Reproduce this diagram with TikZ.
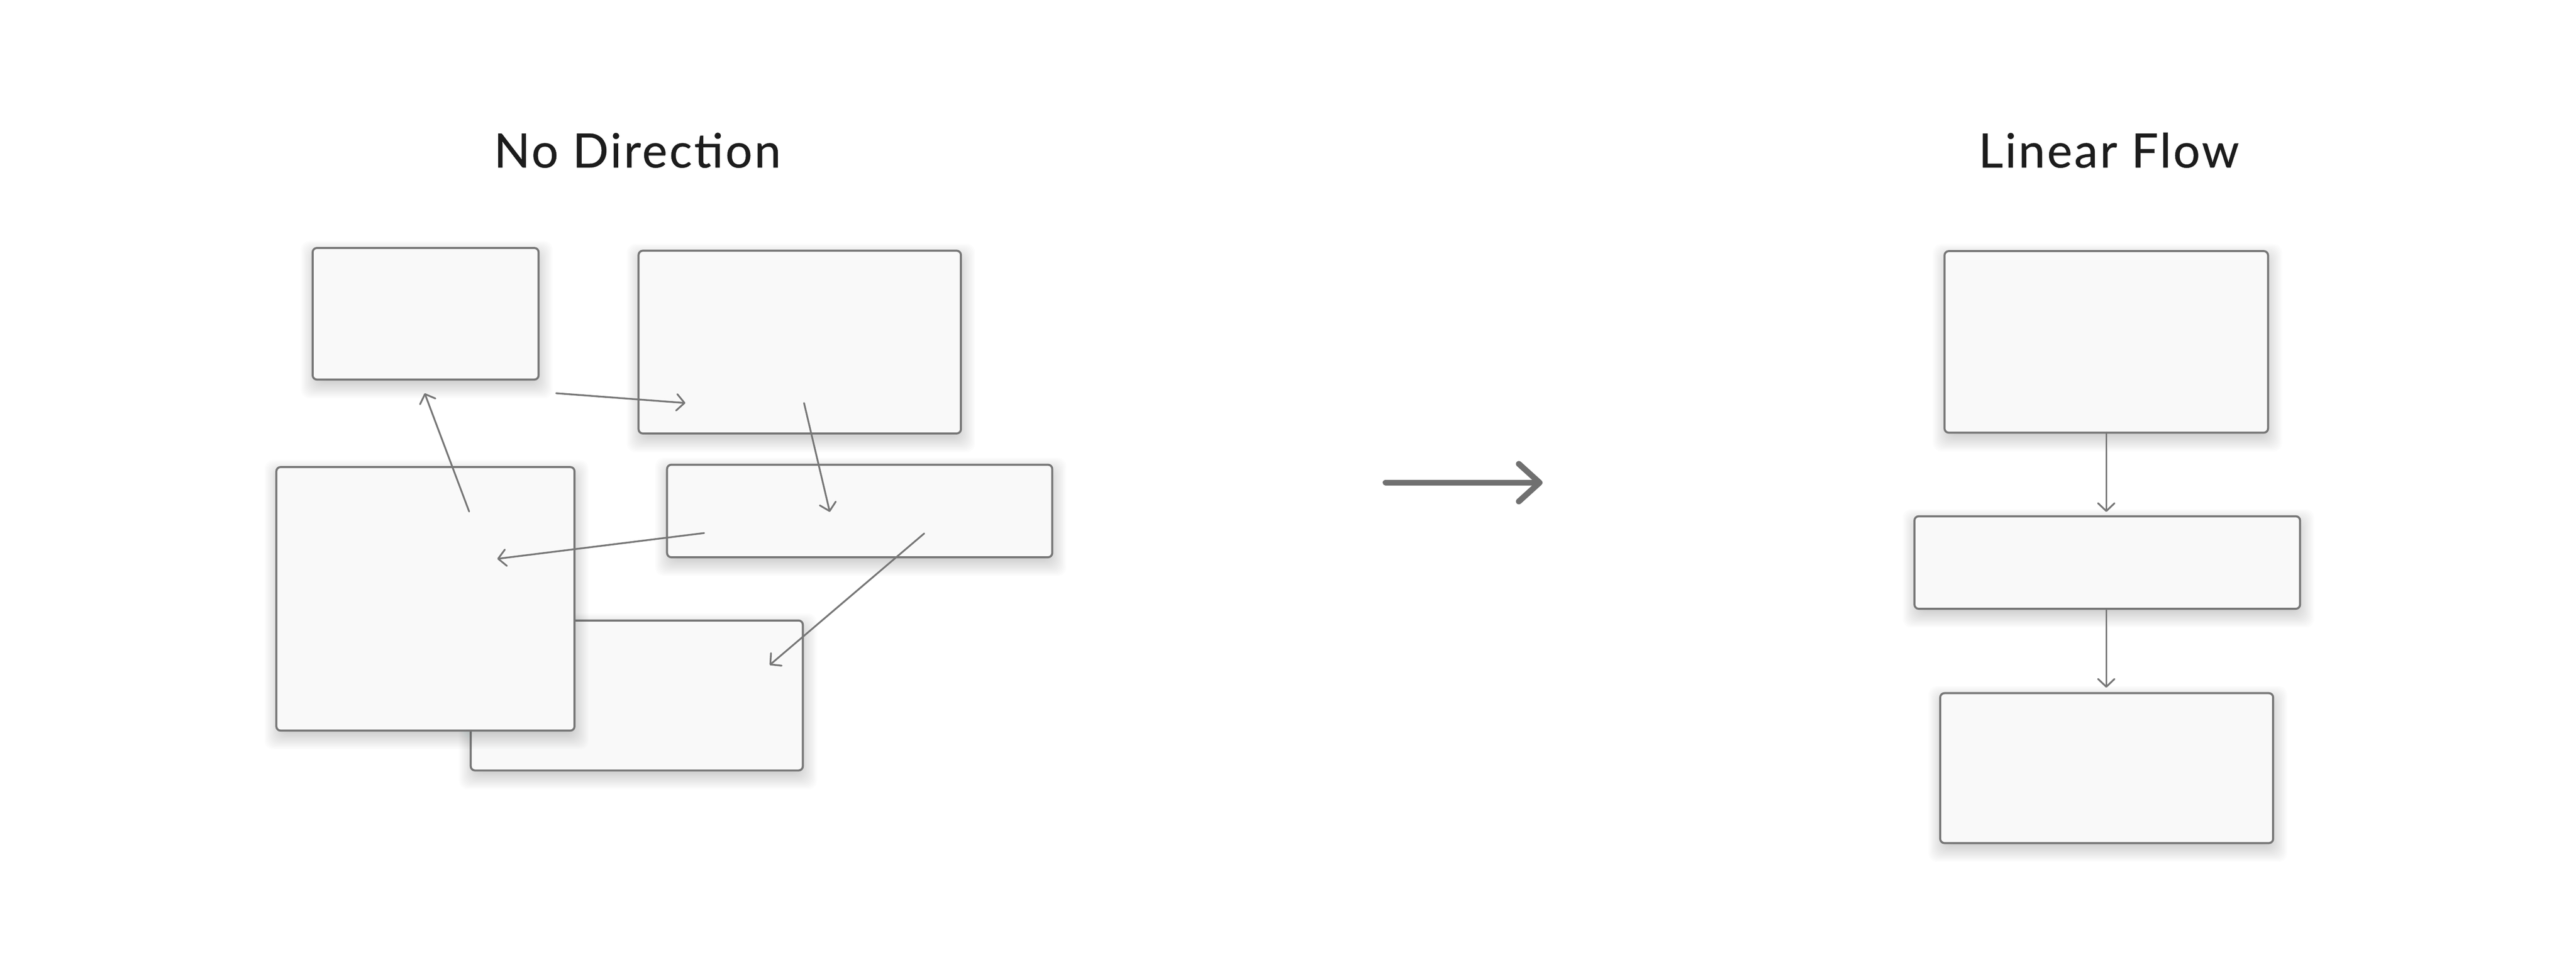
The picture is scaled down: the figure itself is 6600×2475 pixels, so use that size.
\documentclass[tikz,border=0pt]{standalone}
\usepackage{fontspec}
\setmainfont{Lato}
\newfontfamily\headfont{Lato}[LetterSpace=4.5,FakeBold=0.5]
\usetikzlibrary{arrows.meta,fit}
\definecolor{edge}{HTML}{777777}
\definecolor{boxfill}{HTML}{F9F9F9}
\definecolor{bigarrow}{HTML}{707070}
\definecolor{ink}{HTML}{1C1C1C}
\definecolor{shade}{HTML}{405252}
\tikzset{
  card/.style={draw=edge, fill=boxfill, line width=0.052cm, rounded corners=0.11cm,
    inner sep=0pt, outer sep=0pt},
  cardshade/.style={fill=shade, fill opacity=0.015, rounded corners=0.22cm},
  link/.style={draw=edge, line width=0.045cm, line cap=round, line join=round,
    -{Straight Barb[length=0.2cm,width=0.42cm,line cap=round,round]}},
  bigflow/.style={draw=bigarrow, line width=0.15cm, line cap=round, line join=round,
    -{Straight Barb[length=0.53cm,width=0.96cm,line cap=round,round]}},
  heading/.style={text=ink, anchor=base, inner sep=0pt, font=\headfont\fontsize{34.5}{40}\selectfont}
}
% #1 name, (#2,#3) top-left, (#4,#5) bottom-right, in pixels (y grows downwards)
\newcommand\mkcard[5]{%
  \foreach \e in {-30,-27,...,33} {%
    \fill[cardshade] ({#2-(\e)+3},{#3-(\e)+15}) rectangle ({#4+(\e)+3},{#5+(\e)+15});
  }
  \node[card, fit={(#2,#3) (#4,#5)}] (#1) {};
}
\begin{document}
\begin{tikzpicture}[x=0.01cm, y=-0.01cm]
\useasboundingbox (0,0) rectangle (6600,2475);
\fill[white] (0,0) rectangle (6600,2475);

% titles
\node[heading] (t1) at (1633,429) {No Direction};
\node[heading] (t2) at (5403,429) {Linear Flow};

% left cluster
\mkcard{b5}{1206}{1589}{2057}{1973}
\mkcard{b4}{708}{1196}{1472}{1871}
\mkcard{b1}{801}{635}{1380}{972}
\mkcard{b2}{1636}{642}{2462}{1110}
\mkcard{b3}{1709}{1190}{2696}{1427}

\coordinate (a1s) at (1202,1310); \coordinate (a1e) at (1088,1007);
\coordinate (a2s) at (1425,1007); \coordinate (a2e) at (1756,1032);
\coordinate (a3s) at (2060,1032); \coordinate (a3e) at (2126,1311);
\coordinate (a4s) at (1804,1365); \coordinate (a4e) at (1274,1431);
\coordinate (a5s) at (2368,1366); \coordinate (a5e) at (1972,1703);
\draw[link] (a1s) -- (a1e);
\draw[link] (a2s) -- (a2e);
\draw[link] (a3s) -- (a3e);
\draw[link] (a4s) -- (a4e);
\draw[link] (a5s) -- (a5e);

% big arrow
\coordinate (bs) at (3550,1236);
\coordinate (be) at (3952,1236);
\draw[bigflow] (bs) -- (be);

% right column
\mkcard{r1}{4982}{643}{5811}{1108}
\mkcard{r2}{4905}{1322}{5893}{1559}
\mkcard{r3}{4971}{1775}{5824}{2159}
\draw[link, shorten >=0.11cm] (r1.south) -- (r1.south |- r2.north);
\draw[link, shorten >=0.14cm] (r2.south -| r1.south) -- (r1.south |- r3.north);
\end{tikzpicture}
\end{document}
